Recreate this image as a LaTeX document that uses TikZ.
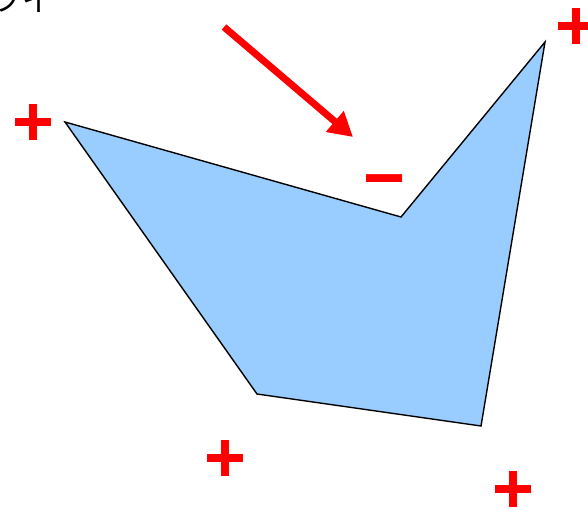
\documentclass[tikz,border=0pt]{standalone}
\usepackage{fontspec}
\newfontfamily\signfont{DejaVu Sans Bold}[FakeBold=2.5]
\newfontfamily\dashfont{Liberation Sans}
\newfontfamily\jpfont{Noto Sans CJK JP}
\usetikzlibrary{arrows.meta}
\definecolor{polyblue}{RGB}{153,204,255}
\definecolor{signred}{RGB}{255,0,0}

\begin{document}
\begin{tikzpicture}[x=1pt, y=-1pt,
  plusmark/.style={text=signred, inner sep=0pt,
                   font=\signfont\fontsize{55}{55}\selectfont},
  minusmark/.style={text=signred, inner sep=0pt,
                    font=\dashfont\bfseries\fontsize{72}{72}\selectfont},
  polygon/.style={draw=black, fill=polyblue, line width=1.4pt, line join=miter},
  arrow/.style={-{Triangle[length=24pt, width=26pt]}, line width=7pt, draw=signred}
]
\path[use as bounding box, clip] (0,0) rectangle (588,510);
\node[anchor=base west, inner sep=0pt,
      font=\jpfont\fontsize{30}{30}\selectfont] (caption) at (-8,12) {フイ};
\coordinate (left)   at (65,122);
\coordinate (dent)   at (401,217);
\coordinate (peak)   at (545,42);
\coordinate (bottom) at (481,426);
\coordinate (foot)   at (257,394);
\draw[polygon] (left) -- (dent) -- (peak) -- (bottom) -- (foot) -- cycle;
\node[plusmark] (plusleft)   at (33,122) {+};
\node[plusmark] (pluspeak)   at (576,26) {+};
\node[plusmark] (plusfoot)   at (225,458) {+};
\node[plusmark] (plusbottom) at (513,489) {+};
\node[minusmark] (minusdent) at (385,189) {−};
\coordinate (tail) at (224,27);
\coordinate (tip)  at (353,137);
\draw[arrow] (tail) -- (tip);
\end{tikzpicture}
\end{document}
